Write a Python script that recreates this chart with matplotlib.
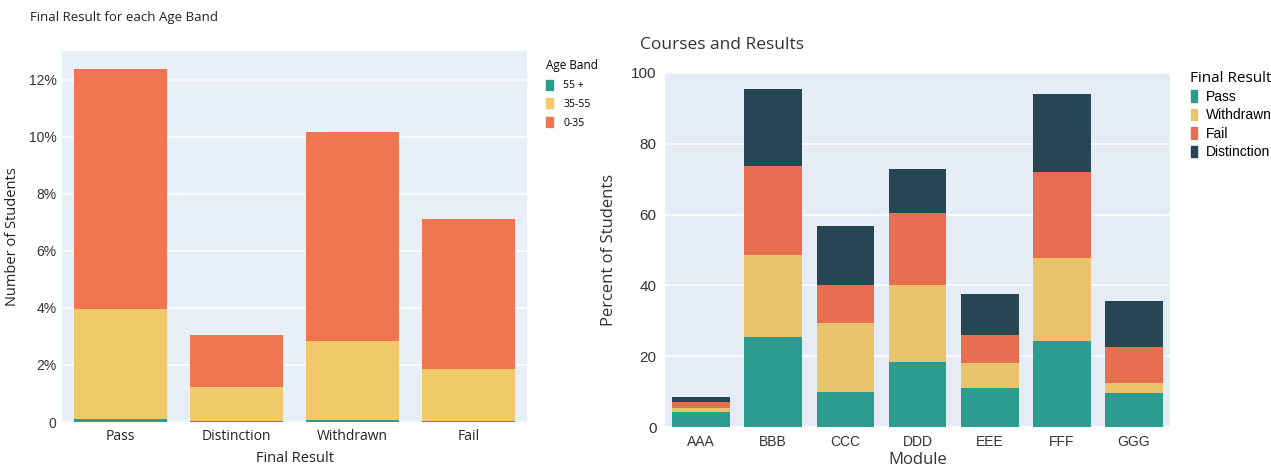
import numpy as np
import matplotlib.pyplot as plt
from matplotlib.patches import Patch
from matplotlib.ticker import FuncFormatter

# left chart: share of students by final result and age band
results = ['Pass', 'Distinction', 'Withdrawn', 'Fail']
age_bands = ['55 +', '35-55', '0-35']
age_55 = [0.10, 0.04, 0.08, 0.04]
age_35_55 = [3.85, 1.18, 2.75, 1.81]
age_0_35 = [8.43, 1.82, 7.34, 5.25]

# right chart: percent of students per module and final result
modules = ['AAA', 'BBB', 'CCC', 'DDD', 'EEE', 'FFF', 'GGG']
final_results = ['Pass', 'Withdrawn', 'Fail', 'Distinction']
pass_pct = [4.3, 25.3, 9.9, 18.4, 10.9, 24.3, 9.5]
withdrawn_pct = [1.1, 23.2, 19.5, 21.8, 7.2, 23.5, 3.0]
fail_pct = [1.6, 25.1, 10.8, 20.3, 7.8, 24.3, 10.0]
distinction_pct = [1.5, 21.9, 16.5, 12.5, 11.6, 22.0, 13.0]

teal, yellow, orange, dark = '#2a9d8f', '#e9c46a', '#e76f51', '#264653'
lorange, lyellow = '#ef7650', '#efc96a'

fig = plt.figure(figsize=(12.71, 4.69), dpi=100)
fig.patch.set_facecolor('white')
txt = 'Open Sans'
num = 'Liberation Sans'

# ---------------- left ----------------
ax1 = fig.add_axes([62 / 1271, 47 / 469, 465 / 1271, 371 / 469])
ax1.set_facecolor('#e9eff7')
x = np.arange(len(results))
b1 = np.array(age_55)
b2 = b1 + np.array(age_35_55)
ax1.bar(x, age_55, 0.8, color=teal, zorder=3)
ax1.bar(x, age_35_55, 0.8, bottom=b1, color=lyellow, zorder=3)
ax1.bar(x, age_0_35, 0.8, bottom=b2, color=lorange, zorder=3)
tot1 = b2 + np.array(age_0_35)
ax1.set_ylim(0, tot1.max() * 1.05)
ax1.set_xlim(-0.5, len(results) - 0.5)
ax1.set_yticks(np.arange(0, 13, 2))
ax1.yaxis.set_major_formatter(FuncFormatter(lambda v, p: '0' if v == 0 else f'{v:.0f}%'))
ax1.grid(axis='y', color='white', lw=1.2, zorder=0)
ax1.set_xticks(x)
ax1.set_xticklabels(results, fontfamily=txt, fontsize=10, color='#222')
for lab in ax1.get_yticklabels():
    lab.set_fontfamily(num)
    lab.set_fontsize(10)
    lab.set_color('#333')
ax1.tick_params(axis='y', length=0, pad=4)
ax1.tick_params(axis='x', length=0, pad=5)
for s in ax1.spines.values():
    s.set_visible(False)
ax1.set_xlabel('Final Result', fontfamily=txt, fontsize=10.5, color='#222', labelpad=5)
ax1.set_ylabel('Number of Students', fontfamily=txt, fontsize=10.5, color='#222', labelpad=6)
fig.text(30 / 1271, 1 - 18 / 469, 'Final Result for each Age Band', fontfamily=txt,
         fontsize=9.5, color='#222', va='center')
h1 = [Patch(color=c) for c in [teal, lyellow, lorange]]
fig.legend(h1, age_bands, loc='upper left', bbox_to_anchor=(537 / 1271, 1 - 50 / 469),
           frameon=False, title='Age Band', alignment='left',
           prop={'family': txt, 'size': 7.5}, title_fontproperties={'family': txt, 'size': 8.5},
           handlelength=0.6, handleheight=1.1, handletextpad=1.0, labelspacing=0.7)

# ---------------- right ----------------
ax2 = fig.add_axes([665 / 1271, 42 / 469, 505 / 1271, 355 / 469])
ax2.set_facecolor('#e5ecf6')
xm = np.arange(len(modules))
s1 = np.array(pass_pct)
s2 = s1 + np.array(withdrawn_pct)
s3 = s2 + np.array(fail_pct)
ax2.bar(xm, pass_pct, 0.8, color=teal, zorder=3)
ax2.bar(xm, withdrawn_pct, 0.8, bottom=s1, color=yellow, zorder=3)
ax2.bar(xm, fail_pct, 0.8, bottom=s2, color=orange, zorder=3)
ax2.bar(xm, distinction_pct, 0.8, bottom=s3, color=dark, zorder=3)
tot2 = s3 + np.array(distinction_pct)
ax2.set_ylim(0, tot2.max() * 1.05)
ax2.set_xlim(-0.5, len(modules) - 0.5)
ax2.set_yticks(np.arange(0, 101, 20))
ax2.grid(axis='y', color='white', lw=1.2, zorder=0)
ax2.set_xticks(xm)
ax2.set_xticklabels(modules, fontfamily=num, fontsize=10, color='#333')
for lab in ax2.get_yticklabels():
    lab.set_fontfamily(num)
    lab.set_fontsize(11)
    lab.set_color('#333')
ax2.tick_params(length=0, pad=6)
for s in ax2.spines.values():
    s.set_visible(False)
ax2.set_xlabel('Module', fontfamily=txt, fontsize=12, color='#333', labelpad=2)
ax2.set_ylabel('Percent of Students', fontfamily=txt, fontsize=12, color='#333', labelpad=10)
fig.text(640 / 1271, 1 - 45 / 469, 'Courses and Results', fontfamily=txt,
         fontsize=12.5, color='#333', va='center')
h2 = [Patch(color=c) for c in [teal, yellow, orange, dark]]
fig.legend(h2, final_results, loc='upper left', bbox_to_anchor=(1178 / 1271, 1 - 58 / 469),
           frameon=False, title='Final Result', alignment='left',
           prop={'family': num, 'size': 10}, title_fontproperties={'family': txt, 'size': 11},
           handlelength=0.5, handleheight=0.9, handletextpad=0.6, labelspacing=0.32)

fig.savefig('out.png', dpi=100)
